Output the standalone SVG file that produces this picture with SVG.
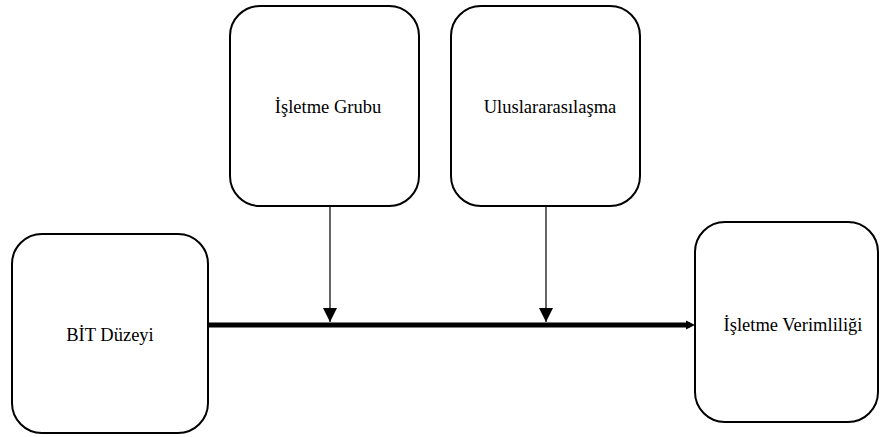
<svg xmlns="http://www.w3.org/2000/svg" width="881" height="437" viewBox="0 0 881 437">
<style>
.box{fill:#fff;stroke:#000;stroke-width:2}
.lbl{font-family:"Liberation Serif","Times New Roman",serif;font-size:18.5px;fill:#000;text-anchor:middle}
.thin{stroke:#333;stroke-width:1.5;fill:none}
.thick{stroke:#000;stroke-width:5;fill:none}
</style>
<defs>
<marker id="tri" markerUnits="userSpaceOnUse" markerWidth="14" markerHeight="14" refX="14" refY="7" orient="auto"><path d="M0,0 L14,7 L0,14 Z" fill="#000"/></marker>
<marker id="small" markerUnits="userSpaceOnUse" markerWidth="8" markerHeight="8" refX="6" refY="4" orient="auto"><path d="M0,0.5 L6,4 L0,7.5 Z" fill="#000"/></marker>
</defs>
<g id="connectors">
<line class="thick" x1="208" y1="325" x2="690" y2="325"/>
<path d="M686,320.5 L695,325 L686,329.5 Z" fill="#000"/>
<line class="thin" x1="330" y1="206" x2="330" y2="322" marker-end="url(#tri)"/>
<line class="thin" x1="546" y1="206" x2="546" y2="322" marker-end="url(#tri)"/>
</g>
<g id="bit">
<rect class="box" x="12" y="234" width="196" height="199" rx="30"/>
<text class="lbl" x="110" y="341">BİT Düzeyi</text>
</g>
<g id="grup">
<rect class="box" x="230" y="6" width="189" height="200" rx="30"/>
<text class="lbl" x="328" y="113">İşletme Grubu</text>
</g>
<g id="ulus">
<rect class="box" x="451" y="6" width="189" height="200" rx="30"/>
<text class="lbl" x="550" y="113">Uluslararasılaşma</text>
</g>
<g id="verim">
<rect class="box" x="695" y="222" width="183" height="200" rx="30"/>
<text class="lbl" x="793" y="331">İşletme Verimliliği</text>
</g>
</svg>
